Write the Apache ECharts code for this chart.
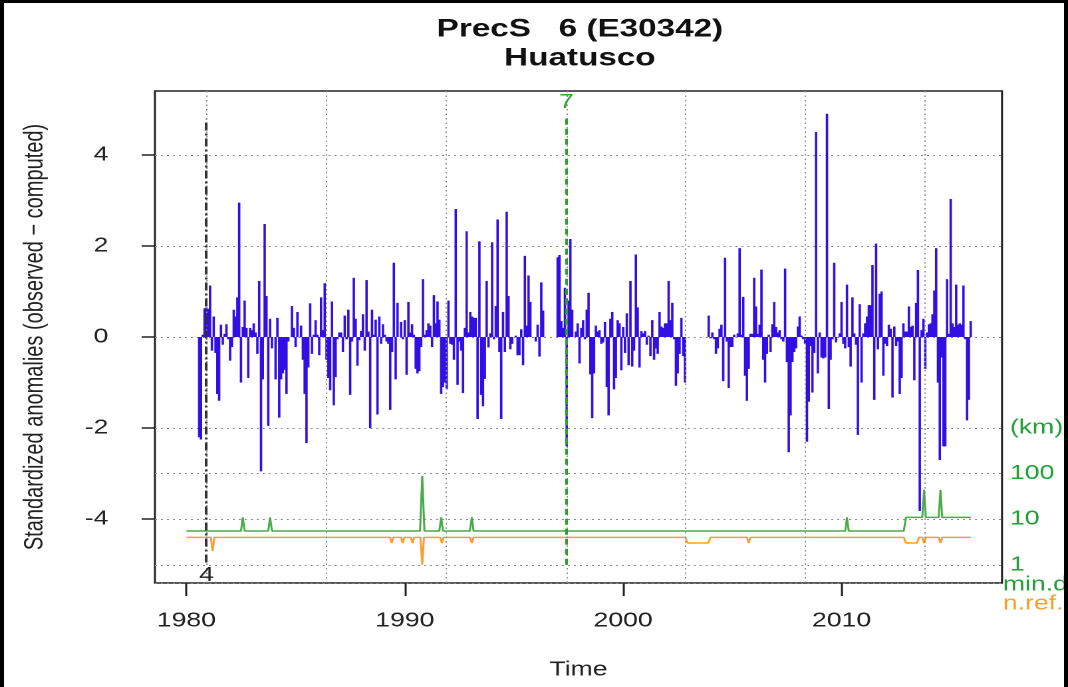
<!DOCTYPE html>
<html>
<head>
<meta charset="utf-8">
<script src="https://cdn.jsdelivr.net/npm/echarts@6.0.0/dist/echarts.min.js"></script>
<style>
  html, body { margin: 0; padding: 0; background: #fff; overflow: hidden; }
  /* the reference is a horizontally stretched R plot, so draw narrow and stretch */
  #chart { width: 803px; height: 687px; transform: scaleX(1.33); transform-origin: 0 0; }
</style>
</head>
<body>
<div id="chart"></div>
<script>
const startYear = 1980;

// monthly standardized anomalies, one row per year (null = missing month)
const anomalies = [
  null, null, null, null, null, null, null, -2.2, -2.25, 0.05, 0.63, 0.65,          // 1980
  0.62, 1.13, -0.3, 0.45, -0.35, -1.25, -1.4, 0.27, -0.17, 0.07, 0.28, -0.05,       // 1981
  -0.52, -0.22, 0.6, 0.45, 0.87, 2.95, -1.0, 0.22, 0.8, 0.2, -0.9, 0.2,             // 1982
  0.15, 0.3, 0.1, -0.37, 1.23, -2.95, -0.93, 2.48, 0.9, -1.95, 0.4, -0.25,          // 1983
  0, -0.93, 0.42, -1.77, -0.93, -0.8, -0.72, -1.25, -0.1, 0, 0.68, 0.2,             // 1984
  -0.22, 0.55, 0, 0.25, -0.5, -1.25, -2.33, -0.67, 0.74, -0.37, 0.05, 0.37,         // 1985
  0.05, -0.4, 0.87, 0.15, 1.18, -0.5, -0.9, -1.17, 0.78, -1.5, -0.88, -0.05,        // 1986
  0.1, 0.1, -0.33, 0.47, -0.05, 0.6, -1.27, -0.1, 1.3, 0.4, -0.63, -0.07,           // 1987
  0.13, 0.5, -0.3, 1.25, 0.12, -2.0, 0.6, 0.05, 0.38, -1.7, 0.45, -0.15,            // 1988
  0.28, 0.05, -0.1, -0.15, -1.6, -0.33, 1.63, -0.93, 0.75, 0, 0.33, -0.05,          // 1989
  0.37, -0.83, 0.77, 0.1, 0.28, 0.05, -0.7, -0.8, -0.75, -0.22, 1.27, 0.05,         // 1990
  0.15, 0.3, 0.25, -0.22, 0.92, 0.3, 0.78, 0.38, -1.25, -1.1, -1.0, -1.15,          // 1991
  0.8, -0.15, -0.17, -0.5, 2.81, -1.05, -0.1, -0.3, -1.23, 0.2, 2.32, 0.1,          // 1992
  0.55, 0.45, 0.42, 0.42, -1.8, 2.1, -1.27, -1.52, -0.92, 1.23, -0.23, 0.08,        // 1993
  2.08, -0.05, 0.68, 2.58, -0.33, -1.8, 0.55, -0.33, 2.75, 0.9, -0.27, -0.15,       // 1994
  0, 0.03, -0.4, -0.4, 0.17, -0.62, 1.78, 0.25, 1.35, 0.77, null, null,             // 1995
  -0.1, 0.27, -0.43, 1.2, 0.58, null, null, null, null, null, null, null,           // 1996
  1.75, 1.8, 0.35, 0.2, 1.08, -2.4, 0.8, 2.15, 0.6, 0, 0.12, 0.3,                   // 1997
  -0.58, 0.2, 0.37, -0.05, 0.6, 0.97, -0.82, -1.78, -0.8, 0.25, 0.12, 0.15,         // 1998
  -0.15, -0.12, 0.33, -1.1, -1.72, 0.4, 0.55, -1.15, -0.9, 0.37, 0.3, -0.73,        // 1999
  0.22, -0.35, 0.52, -0.62, 1.23, -0.65, -0.3, 1.81, 0.65, -0.67, 0.13, 0.08,       // 2000
  0.13, -0.17, 0.03, -0.42, 0.37, -0.5, -0.25, -0.37, 0.55, 0.23, 0.2, 0.3,         // 2001
  0.3, 1.23, 0.37, 0.75, -0.05, -1.07, -0.8, -0.37, 0.42, -0.42, -1.0, null,        // 2002
  null, null, null, null, null, null, null, null, null, null, null, 0.47,           // 2003
  -0.03, 0.1, -0.05, -0.37, -0.25, 0.18, 0.27, -0.97, 1.74, -0.1, -1.12, -0.22,     // 2004
  -0.22, 0.05, 0, 0.08, 1.95, 0.05, 0.88, -0.85, -1.4, -0.7, 0.07, 0.07,            // 2005
  1.3, 0.67, 0.07, 0.27, 1.48, -0.5, -1.0, -0.37, 0.05, -0.33, 0.28, 0.77,          // 2006
  0.22, 0.1, 0.15, -0.05, -0.1, 1.5, -0.55, -2.53, -1.72, -0.55, -0.33, -0.25,      // 2007
  0.23, 0.45, 0.03, -0.05, -0.15, -2.3, -1.42, -0.2, -1.22, -0.35, 4.5, -0.8,       // 2008
  0.1, -0.45, -0.47, -0.45, 4.9, -1.58, -0.5, -0.05, 1.63, -0.12, 0, 0.08,          // 2009
  0.77, -0.15, -0.25, 1.15, -0.22, -0.65, 0.87, 0.08, -0.17, -2.15, 0.72, -1.0,     // 2010
  0.08, 0.3, 0.45, 0.7, 0.7, 1.58, -1.38, 2.05, -0.27, 0.95, 1.0, -0.85,            // 2011
  -0.15, -0.2, 0.27, 0.18, -1.33, 0.23, -0.2, -0.1, -1.25, -0.9, 0.3, 0.12,         // 2012
  0.12, 0.67, 0.22, 0.25, -0.95, 0.75, 1.47, -3.82, 0.15, 0.4, -0.7, 0.1,           // 2013
  0.28, 0.3, 0.5, 1.02, 1.95, -1.0, -2.7, -0.45, -2.4, -2.4, 1.27, 0.07,            // 2014
  3.03, 0.3, 0.22, 1.15, 0.27, 0.3, 0.27, 1.13, -0.05, -1.83, -1.38, 0.35           // 2015
];

// minimum distance to nearest reference (km), breakpoints of the green line
const minDistYears = [1980.0, 1982.5, 1982.58, 1982.67, 1983.75, 1983.83, 1983.92, 1990.7, 1990.8, 1990.9,
  1991.58, 1991.67, 1991.75, 1992.98, 1993.07, 1993.15, 2010.17, 2010.25, 2010.33, 2012.85, 2012.95,
  2013.7, 2013.78, 2013.86, 2014.45, 2014.53, 2014.61, 2015.92];
const minDistKm = [5.5, 5.5, 11, 5.5, 5.5, 11, 5.5, 5.5, 89, 5.5,
  5.5, 11, 5.5, 5.5, 11, 5.5, 5.5, 11, 5.5, 5.5, 11,
  11, 44, 11, 11, 44, 11, 11];

// number of references, breakpoints of the orange line
const nRefYears = [1980.0, 1981.12, 1981.2, 1981.28, 1989.33, 1989.4, 1989.48, 1989.83, 1989.9, 1989.98,
  1990.28, 1990.35, 1990.43, 1990.72, 1990.8, 1990.88, 1991.62, 1991.7, 1991.78, 1992.98, 1993.07, 1993.15,
  2002.85, 2002.95, 2003.9, 2004.0, 2005.67, 2005.75, 2005.83, 2012.85, 2012.95, 2013.45, 2013.55,
  2013.7, 2013.78, 2013.86, 2014.45, 2014.53, 2014.61, 2015.92];
const nRefCount = [4, 4, 2, 4, 4, 3, 4, 4, 3, 4,
  4, 3, 4, 4, 1, 4, 4, 3, 4, 4, 3, 4,
  4, 3, 3, 4, 4, 3, 4, 4, 3, 3, 4,
  4, 3, 4, 4, 3, 4, 4];

// detected breaks and their labels
const breakYears = [1980.92, 1997.4];
const breakLabels = ['4', '7'];

// dotted vertical grid lines
const gridYears = [1980.93, 1986.4, 1991.9, 1997.4, 2002.85, 2008.32, 2013.81];

const xTicks = [1980, 1990, 2000, 2010];
const yTicks = [-4, -2, 0, 2, 4];

const font = '"Liberation Sans", Arial, sans-serif';
const green = '#22a03a';
const orange = '#f5a030';
const dotted = { color: '#8c8c8c', type: [1.5, 3], width: 1 };

const barData = [];
anomalies.forEach((v, i) => {
  if (v !== null) barData.push([startYear + i / 12, v]);
});

const chart = echarts.init(document.getElementById('chart'), null, { devicePixelRatio: 2 });

const option = {
  animation: false,
  backgroundColor: '#fff',
  title: {
    text: 'PrecS   6 (E30342)\nHuatusco',
    left: 431,
    top: 10,
    textAlign: 'center',
    textStyle: { fontFamily: font, fontSize: 25, fontWeight: 'bold', lineHeight: 29, color: '#111' }
  },
  grid: [
    { left: 116.5, right: 49.6, top: 91, bottom: 104, show: true, borderColor: '#222', borderWidth: 1.5 },
    // lower band shares the same x range; used for the log scale (km)
    { left: 116.5, right: 49.6, top: 428.1, bottom: 104, show: false }
  ],
  xAxis: [
    {
      type: 'value', gridIndex: 0, min: 1978.56, max: 2017.35,
      axisLine: { show: false, onZero: false },
      axisTick: { customValues: xTicks, length: 13, lineStyle: { color: '#222', width: 1.5 } },
      axisLabel: { customValues: xTicks, margin: 28, fontSize: 20, fontFamily: font, color: '#222',
        formatter: v => String(v) },
      splitLine: { show: false },
      name: 'Time', nameLocation: 'middle', nameGap: 77,
      nameTextStyle: { fontSize: 20, fontFamily: font, color: '#222' }
    },
    { type: 'value', gridIndex: 1, min: 1978.56, max: 2017.35, show: false, axisLine: { onZero: false } }
  ],
  yAxis: [
    {
      type: 'value', gridIndex: 0, min: -5.4, max: 5.4, splitNumber: 5,
      axisLine: { show: false, onZero: false },
      axisTick: { customValues: yTicks, length: 10, lineStyle: { color: '#222', width: 1.5 } },
      axisLabel: { customValues: yTicks, margin: 35, fontSize: 20, fontFamily: font, color: '#222' },
      splitLine: { show: true, lineStyle: dotted },
      name: 'Standardized anomalies (observed \u2212 computed)',
      nameLocation: 'middle', nameGap: 80, nameRotate: 90,
      nameTextStyle: { fontSize: 20, fontFamily: font, color: '#222' }
    },
    {
      type: 'log', logBase: 10, gridIndex: 1, position: 'right',
      min: Math.pow(10, -0.4), max: 1000,
      axisLine: { show: false, onZero: false },
      axisTick: { show: false },
      axisLabel: {
        margin: 6, fontSize: 20, fontFamily: font, color: green,
        formatter: v => {
          if (Math.abs(v - 1000) < 1e-6) return '(km)';
          if ([1, 10, 100].some(t => Math.abs(v - t) < 1e-6)) return String(Math.round(v));
          return '';
        }
      },
      splitLine: { show: true, lineStyle: dotted }
    }
  ],
  graphic: [
    { type: 'text', x: 754, y: 585, silent: true,
      style: { text: 'min.d.', fill: green, fontSize: 20, fontFamily: font, verticalAlign: 'middle' } },
    { type: 'text', x: 754, y: 604, silent: true,
      style: { text: 'n.ref.', fill: orange, fontSize: 20, fontFamily: font, verticalAlign: 'middle' } },
    { type: 'rect', silent: true, shape: { x: 1.5, y: 1.5, width: 800, height: 720 },
      style: { fill: 'none', stroke: '#000', lineWidth: 3 } }
  ],
  series: [
    {
      type: 'bar',
      xAxisIndex: 0, yAxisIndex: 0,
      data: barData,
      barWidth: 1.8,
      itemStyle: { color: '#3210e4' },
      markLine: {
        silent: true,
        symbol: 'none',
        data: [
          ...gridYears.map(x => ({ xAxis: x, lineStyle: dotted, label: { show: false } })),
          [
            { coord: [breakYears[0], -4.95], lineStyle: { color: '#333', type: [8, 3, 2, 3], width: 2 },
              label: { show: true, position: 'start', formatter: breakLabels[0], fontSize: 20, fontFamily: font, color: '#222', distance: 3 } },
            { coord: [breakYears[0], 4.78] }
          ],
          [
            { coord: [breakYears[1], -5.0], lineStyle: { color: '#2aa02a', type: [6, 4], width: 2 },
              label: { show: true, position: 'end', formatter: breakLabels[1], fontSize: 20, fontFamily: font, color: '#33a133', distance: 2 } },
            { coord: [breakYears[1], 4.88] }
          ]
        ]
      }
    },
    {
      type: 'line',
      xAxisIndex: 1, yAxisIndex: 1,
      data: minDistYears.map((x, i) => [x, minDistKm[i]]),
      showSymbol: false,
      lineStyle: { color: '#4aaa4a', width: 1.5 },
      z: 3
    },
    {
      type: 'line',
      xAxisIndex: 1, yAxisIndex: 1,
      data: nRefYears.map((x, i) => [x, nRefCount[i]]),
      showSymbol: false,
      lineStyle: { color: orange, width: 1.5 },
      z: 3
    }
  ]
};

chart.setOption(option);
</script>
</body>
</html>
